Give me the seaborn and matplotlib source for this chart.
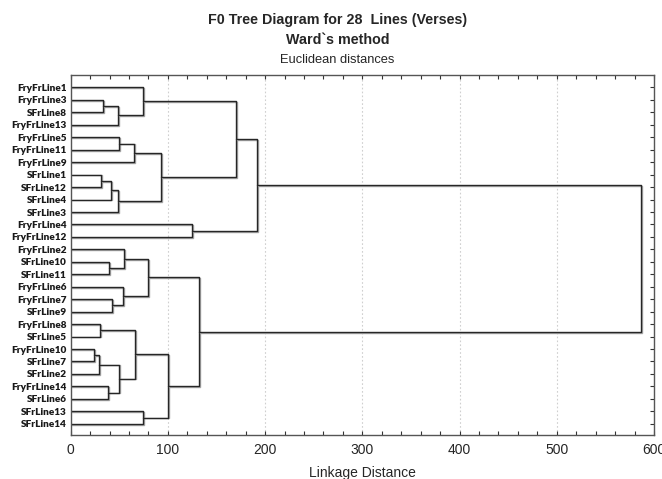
import numpy as np
import pandas as pd
import matplotlib
matplotlib.use("Agg")
import matplotlib.pyplot as plt
import matplotlib.patheffects as pe
from matplotlib.ticker import MultipleLocator
import seaborn as sns

# ---- data ----
leaves = ["FryFrLine1", "FryFrLine3", "SFrLine8", "FryFrLine13", "FryFrLine5",
          "FryFrLine11", "FryFrLine9", "SFrLine1", "SFrLine12", "SFrLine4",
          "SFrLine3", "FryFrLine4", "FryFrLine12", "FryFrLine2", "SFrLine10",
          "SFrLine11", "FryFrLine6", "FryFrLine7", "SFrLine9", "FryFrLine8",
          "SFrLine5", "FryFrLine10", "SFrLine7", "SFrLine2", "FryFrLine14",
          "SFrLine6", "SFrLine13", "SFrLine14"]
# merges: new node ids start at 28 (leaf indices 0..27)
merge_left = [1, 28, 0, 4, 31, 7, 33, 34, 32, 30, 11, 37,
              14, 13, 17, 16, 41, 19, 21, 46, 24, 47, 45, 26, 50, 44, 39]
merge_right = [2, 3, 29, 5, 6, 8, 9, 10, 35, 36, 12, 38,
               15, 40, 18, 42, 43, 20, 22, 23, 25, 48, 49, 27, 51, 52, 53]
merge_height = [33.2, 48.7, 74.4, 49.7, 65.1, 31.2, 41.5, 48.7, 92.9, 170.4, 124.5, 191.4,
                39.1, 54.8, 42.8, 53.5, 79.5, 30.1, 24.3, 29.1, 38.7, 49.7, 66.2, 74.7,
                100.4, 132.3, 586.7]
x_ticks = [0, 100, 200, 300, 400, 500, 600]

# ---- build link segments ----
n = len(leaves)
pos = {i: float(i) for i in range(n)}
hgt = {i: 0.0 for i in range(n)}
rows = []
for k, (a, b, h) in enumerate(zip(merge_left, merge_right, merge_height)):
    node = n + k
    for j, (xx, yy) in enumerate([(hgt[a], pos[a]), (h, pos[a]), (h, pos[b]), (hgt[b], pos[b])]):
        rows.append({"link": k, "order": j, "dist": xx, "row": yy})
    pos[node] = (pos[a] + pos[b]) / 2
    hgt[node] = h
df = pd.DataFrame(rows)

# ---- plot ----
sns.set_style("white")
plt.rcParams["font.family"] = ["Liberation Sans", "DejaVu Sans"]
fig = plt.figure(figsize=(6.62, 4.79), dpi=100)
ax = fig.add_axes([0.1068, 0.0919, 0.988 - 0.1068, 0.8434 - 0.0919])

sns.lineplot(data=df, x="dist", y="row", units="link", estimator=None, sort=False,
             color="#262626", linewidth=1.0, ax=ax, legend=False)
for ln in ax.lines:
    ln.set_path_effects([pe.SimpleLineShadow(offset=(0.6, -0.6), shadow_color="#a8a8a8", alpha=1.0),
                         pe.Normal()])

ax.set_xlim(0, 600)
ax.set_ylim(27.9, -1.0)
ax.set_xticks(x_ticks)
ax.xaxis.set_minor_locator(MultipleLocator(20))
ax.set_yticks(range(n))
ax.set_yticklabels(leaves, fontsize=7.2, fontweight="heavy", family=["Lato", "DejaVu Sans"],
                   color="#1a1a1a")
ax.tick_params(axis="x", which="both", direction="in", length=3, width=0.8, top=True,
               bottom=True, labelsize=10, pad=6, color="#333333")
ax.tick_params(axis="y", which="both", direction="in", left=False, right=True, length=3,
               width=0.8, pad=3, color="#333333")
for lab in ax.get_xticklabels():
    lab.set_family(["Liberation Sans Narrow", "Liberation Sans"])
ax.grid(axis="x", which="major", linestyle=(0, (1.5, 2)), color="#cfcfcf", linewidth=0.8)
ax.grid(axis="y", visible=False)
for s in ax.spines.values():
    s.set_color("#555555")
    s.set_linewidth(1.0)
ax.set_xlabel("Linkage Distance", fontsize=10, family=["Liberation Sans Narrow", "Liberation Sans"], labelpad=6)
ax.set_ylabel("")

fig.text(0.51, 0.958, "F0 Tree Diagram for 28  Lines (Verses)", ha="center", va="center",
         fontsize=10.3, fontweight="bold")
fig.text(0.51, 0.917, "Ward`s method", ha="center", va="center", fontsize=10.3, fontweight="bold")
fig.text(0.51, 0.875, "Euclidean distances", ha="center", va="center", fontsize=9.3)

fig.savefig("out.png", dpi=100)
